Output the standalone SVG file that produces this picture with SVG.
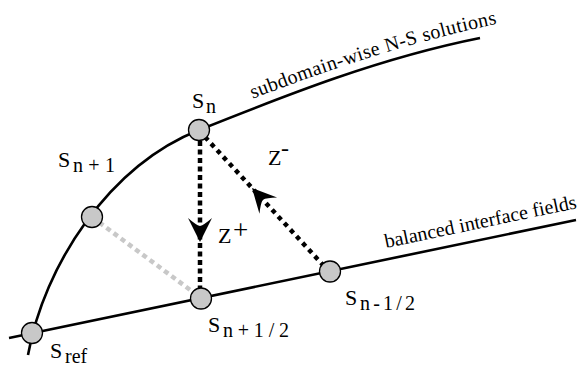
<svg xmlns="http://www.w3.org/2000/svg" xmlns:xlink="http://www.w3.org/1999/xlink" width="579" height="367" viewBox="0 0 579 367">
<style>
.curve{fill:none;stroke:#000;stroke-width:2.6}
.dotv{fill:none;stroke:#000;stroke-width:4.5;stroke-dasharray:5 3.5}
.dotd{fill:none;stroke:#000;stroke-width:4.5;stroke-dasharray:4.5 4.5}
.dotg{fill:none;stroke:#c8c8c8;stroke-width:4.5;stroke-dasharray:5 4}
.node{fill:#c8c8c8;stroke:#000;stroke-width:1.3}
text{font-family:'Liberation Serif','DejaVu Serif',serif;fill:#000}
.lab{font-size:22px}
.sub{font-size:20px}
.cap{font-size:20px}
</style>
<defs>
<path id="ah" d="M0 0 L-24 -12 Q-17 -4 -16 0 Q-17 4 -24 12 Z" fill="#000"/>
<path id="tp" d="M249 100 C300 81 390 46 505 22"/>
</defs>
<g id="curves">
<path class="curve" d="M28 355 C44 265 109 166 199 130 C289 94 380 58 480 38"/>
<path class="curve" d="M9 338 L576 220"/>
<text class="cap"><textPath xlink:href="#tp" href="#tp" startOffset="4" textLength="256" lengthAdjust="spacing">subdomain-wise N-S solutions</textPath></text>
<text class="cap" x="386" y="248" transform="rotate(-11.8 386 248)">balanced interface fields</text>
</g>
<g id="connectors">
<path class="dotg" d="M92 217 L201 298"/>
<path class="dotv" d="M200 141 L200 289"/>
<path class="dotd" d="M205 137 L323 265"/>
<use xlink:href="#ah" href="#ah" transform="translate(200 242) rotate(90)"/>
<use xlink:href="#ah" href="#ah" transform="translate(252 188) rotate(-132.7)"/>
<text class="lab" x="218" y="243">Z</text>
<text class="lab" x="233" y="239" style="font-size:27px">+</text>
<text class="lab" x="268" y="165">Z</text>
<text class="lab" x="281" y="156" style="font-size:24px">-</text>
</g>
<g id="s_ref">
<circle class="node" cx="32" cy="333" r="10.5"/>
<text class="lab" x="50" y="358">S</text>
<text class="sub" x="65" y="363">ref</text>
</g>
<g id="s_n1">
<circle class="node" cx="92" cy="217" r="10.5"/>
<text class="lab" x="58" y="167">S</text>
<text class="sub" x="73" y="172" textLength="42" lengthAdjust="spacing">n+1</text>
</g>
<g id="s_n">
<circle class="node" cx="199" cy="130" r="10.5"/>
<text class="lab" x="192" y="108">S</text>
<text class="sub" x="206" y="113">n</text>
</g>
<g id="s_nphalf">
<circle class="node" cx="201" cy="298.5" r="10.5"/>
<text class="lab" x="208" y="332">S</text>
<text class="sub" x="223" y="337" textLength="66" lengthAdjust="spacing">n+1/2</text>
</g>
<g id="s_nmhalf">
<circle class="node" cx="330" cy="271.5" r="10.5"/>
<text class="lab" x="345" y="305">S</text>
<text class="sub" x="360" y="310" textLength="55" lengthAdjust="spacing">n-1/2</text>
</g>
</svg>
